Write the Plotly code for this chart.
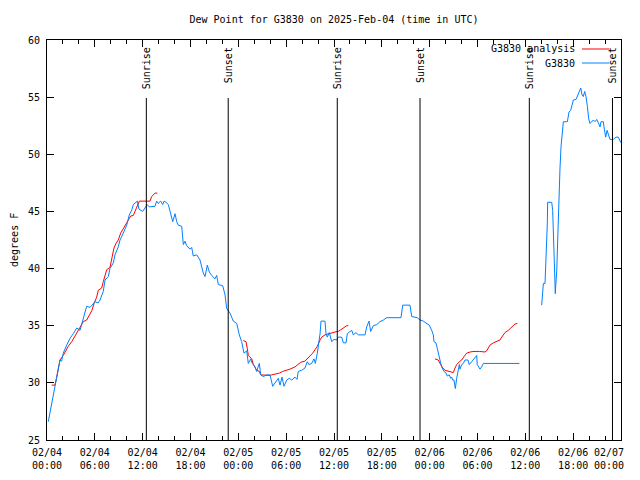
import plotly.graph_objects as go

# ---------------- data (x = hours since 2025-02-04 00:00 UTC, y = deg F) ----------------
obs_hours = [0.16, 0.5, 0.79, 1.0, 1.22, 1.42, 1.63, 1.84, 2.04, 2.47, 2.89, 3.3, 3.73, 4.14, 4.35,
             4.77, 4.98, 5.39, 5.81, 6.02, 6.44, 6.65, 7.06, 7.28, 7.69, 7.9, 8.32, 8.53, 8.94, 9.16,
             9.57, 10.0, 10.32, 10.62, 10.83, 11.25, 11.33, 11.54, 12.0, 12.29, 12.58, 12.83, 13.05,
             13.55, 13.76, 13.96, 14.26, 14.51, 14.68, 14.93, 15.22, 15.52, 15.77, 16.06, 16.27,
             16.47, 16.9, 17.1, 17.31, 17.52, 17.94, 18.15, 18.35, 18.78, 19.19, 19.61, 19.82, 20.11,
             20.36, 20.66, 21.07, 21.29, 21.49, 22.04, 22.33, 22.54, 22.96, 23.37, 23.8, 24.12,
             24.42, 24.71, 25.05, 25.25, 25.55, 25.68, 26.09, 26.3, 26.63, 26.81, 27.13, 27.56,
             27.97, 28.31, 28.6, 29.01, 29.23, 29.48, 29.73, 30.07, 30.39, 30.69, 31.11, 31.36,
             31.52, 31.95, 32.36, 32.65, 32.86, 33.2, 33.49, 33.66, 33.91, 34.03, 34.25, 34.37,
             34.87, 35.0, 35.16, 35.41, 35.71, 36.0, 36.34, 36.54, 36.97, 37.17, 37.51, 37.67,
             37.92, 38.22, 38.42, 38.76, 39.05, 39.89, 40.1, 40.39, 40.6, 40.93, 41.36, 41.77,
             42.19, 42.61, 44.4, 44.62, 45.53, 45.75, 46.45, 46.79, 47.2, 47.63, 47.95, 48.25,
             48.46, 48.54, 48.79, 48.96, 49.08, 49.21, 49.39, 49.51, 49.8, 50.05, 50.21, 50.46,
             50.64, 50.76, 50.89, 51.05, 51.22, 51.39, 51.59, 51.72, 51.8, 52.02, 52.22, 52.43,
             52.8, 52.97, 53.27, 53.69, 53.9, 53.97, 54.31, 54.52, 54.73, 59.25,
             None,
             62.05, 62.26, 62.47, 62.59, 62.76, 62.8, 63.31, 63.43, 63.51, 63.64, 63.76, 63.81,
             63.94, 64.06, 64.19, 64.35, 64.48, 64.64, 64.77, 65.27, 65.48, 65.69, 65.82, 66.02,
             66.36, 66.57, 66.77, 66.95, 67.11, 67.27, 67.45, 67.61, 67.78, 67.95, 68.11, 68.33,
             68.53, 68.74, 68.96, 69.16, 69.37, 69.49, 69.78, 69.91, 70.08, 70.25, 70.41, 70.62,
             71.03, 71.37, 71.66, 71.88, 72.0]
obs_dewpt = [26.6, 27.9, 28.9, 29.8, 30.7, 31.4, 32.0, 31.9, 32.6, 33.3, 33.9, 34.3, 34.8, 34.6, 35.1,
             36.2, 36.7, 36.6, 37.0, 37.1, 37.0, 37.25, 38.0, 39.0, 39.3, 40.0, 40.5, 41.2, 41.9, 42.5,
             43.1, 43.8, 44.7, 45.1, 45.6, 45.8, 45.9, 45.2, 45.0, 45.3, 45.6, 45.4, 45.4,
             45.45, 45.9, 45.7, 45.9, 45.6, 45.9, 45.8, 45.6, 44.8, 44.1, 44.8, 44.1,
             43.8, 43.7, 42.1, 42.4, 42.0, 41.7, 41.85, 41.1, 41.2, 40.75, 39.6, 39.3, 40.3,
             39.7, 39.4, 39.1, 39.4, 38.6, 38.5, 37.7, 36.5, 36.1, 35.4, 35.2, 34.2,
             33.6, 32.6, 32.8, 31.7, 32.1, 31.8, 31.4, 31.0, 31.7, 30.7, 30.55, 30.7,
             30.7, 29.7, 29.95, 30.4, 29.8, 30.5, 29.7, 30.25, 30.4, 30.25, 30.5, 30.3,
             31.0, 31.1, 31.3, 31.85, 31.6, 31.7, 32.1, 31.7, 32.6, 33.2, 34.3, 35.4,
             35.4, 34.3, 34.0, 34.4, 33.6, 33.8, 33.75, 34.0, 34.0, 33.5, 33.5, 34.3,
             34.45, 34.6, 34.2, 34.4, 34.2, 34.2, 34.9, 35.4, 34.5, 35.0, 35.1, 35.35,
             35.5, 35.7, 35.7, 36.8, 36.8, 35.8, 35.7, 35.5, 35.4, 35.2, 35.05, 34.6,
             34.2, 33.6, 33.5, 33.0, 32.6, 32.0, 31.7, 31.4, 31.0, 30.85, 30.6, 30.7,
             30.4, 30.5, 30.25, 30.25, 29.5, 30.4, 31.3, 31.6, 31.2, 31.6, 31.7, 32.0,
             32.0, 31.6, 31.85, 32.2, 32.4, 31.6, 31.2, 31.4, 31.7, 31.7,
             None,
             36.8, 38.7, 38.7, 40.6, 44.0, 45.8, 45.8, 45.1, 43.1, 39.6, 37.8, 38.5,
             39.8, 42.5, 46.0, 48.8, 50.7, 52.4, 52.85, 52.85, 53.7, 53.85, 54.3, 54.75,
             54.8, 55.2, 55.6, 55.8, 55.2, 55.05, 55.5, 55.05, 54.2, 53.1, 52.7, 52.85,
             53.0, 52.85, 53.05, 52.75, 52.4, 52.85, 52.85, 52.2, 51.5, 52.1, 51.7, 51.3,
             51.3, 51.5, 51.5, 51.2, 51.0]

ana_hours = [0.59, 1.0, 1.22, 1.42, 1.63, 2.04, 2.26, 2.67, 3.1, 3.42, 3.73, 4.14, 4.55, 4.98, 5.39,
             5.61, 5.93, 6.23, 6.44, 6.86, 7.06, 7.28, 7.49, 7.9, 8.11, 8.4, 8.66, 8.94, 9.24, 9.57,
             10.07, 10.5, 10.83, 11.04, 11.33, 11.58, 12.92, 13.13, 13.55, 13.84,
             None,
             24.62, 24.96, 25.13, 25.25, 25.68, 25.88, 26.3, 26.63, 26.81, 27.48, 27.89, 28.19,
             28.81, 29.14, 29.57, 30.07, 30.48, 31.11, 31.52, 31.82, 32.36, 32.65, 32.99, 33.33,
             33.62, 33.91, 34.25, 34.46, 34.87, 35.29, 35.71, 36.13, 36.54, 36.75, 37.17, 37.59, 37.8,
             None,
             48.67, 49.08, 49.3, 49.64, 49.93, 50.21, 50.46, 50.76, 50.97, 51.18, 51.39, 51.72,
             52.02, 52.31, 52.64, 53.06, 53.56, 54.23, 54.94, 55.15, 55.57, 55.98, 56.41, 56.82,
             57.04, 57.45, 57.87, 58.29, 58.7, 59.0]
ana_dewpt = [29.8, 29.8, 30.5, 31.4, 32.0, 32.4, 32.7, 33.2, 33.6, 34.0, 34.3, 34.8, 35.35, 35.5, 36.1,
             36.3, 37.0, 37.5, 38.1, 38.3, 38.85, 39.5, 39.9, 40.1, 40.75, 41.8, 42.2, 42.5, 43.1, 43.5,
             44.1, 44.6, 44.65, 45.0, 45.6, 45.9, 45.9, 46.3, 46.6, 46.6,
             None,
             33.7, 33.6, 33.0, 32.4, 32.1, 31.6, 31.1, 31.0, 30.7, 30.65, 30.65, 30.7,
             30.8, 30.85, 31.0, 31.1, 31.2, 31.4, 31.6, 31.8, 31.9, 32.1, 32.3, 32.6,
             32.9, 33.2, 33.75, 34.0, 34.2, 34.3, 34.35, 34.45, 34.5, 34.6, 34.8, 35.0, 35.0,
             None,
             32.1, 32.0, 31.7, 31.3, 31.1, 31.05, 31.0, 30.9, 30.9, 31.3, 31.6, 31.85,
             32.0, 32.3, 32.6, 32.7, 32.75, 32.75, 32.7, 32.8, 33.3, 33.5, 33.6, 33.75,
             34.0, 34.4, 34.6, 34.9, 35.15, 35.2]

sun_hours = [12.46, 22.73, 36.41, 46.79, 60.5, 70.93]
sun_labels = ["Sunrise", "Sunset", "Sunrise", "Sunset", "Sunrise", "Sunset"]

PAD = "\u00a0" * 4  # keeps the last (edge) label inside the window, as in the reference
tick_hours = [0, 6, 12, 18, 24, 30, 36, 42, 48, 54, 60, 66, 72]
tick_labels = ["02/04<br>00:00", "02/04<br>06:00", "02/04<br>12:00", "02/04<br>18:00",
               "02/05<br>00:00", "02/05<br>06:00", "02/05<br>12:00", "02/05<br>18:00",
               "02/06<br>00:00", "02/06<br>06:00", "02/06<br>12:00", "02/06<br>18:00",
               "02/07" + PAD + "<br>00:00" + PAD]

series_names = ["G3830 analysis", "G3830"]
series_colors = ["#ff0000", "#0080ff"]

# ---------------- figure ----------------
# page body has an 8px margin; the window shows the top-left 640x480 of the page
FONT = "DejaVu Sans Mono"
W, H = 632, 472
fig = go.Figure()
fig.add_trace(go.Scatter(x=ana_hours, y=ana_dewpt, mode="lines", name=series_names[0],
                         line=dict(color=series_colors[0], width=1), connectgaps=False))
fig.add_trace(go.Scatter(x=obs_hours, y=obs_dewpt, mode="lines", name=series_names[1],
                         line=dict(color=series_colors[1], width=1), connectgaps=False))

line_top = 0.855
for h, lab in zip(sun_hours, sun_labels):
    fig.add_shape(type="line", xref="x", yref="paper", x0=h, x1=h, y0=0, y1=line_top,
                  line=dict(color="black", width=1))
    fig.add_annotation(x=h, xref="x", y=1, yref="paper", text=lab, textangle=-90,
                       showarrow=False, xanchor="center", yanchor="top", yshift=-5,
                       font=dict(family=FONT, size=10, color="black"))

# manual gnuplot-style legend (text right, sample line to its right)
for i, (nm, col) in enumerate(zip(series_names, series_colors)):
    yy = 1 - (9 + 14 * i) / 400
    fig.add_annotation(x=0.924, xref="paper", y=yy, yref="paper", text=nm, showarrow=False,
                       xanchor="right", yanchor="middle",
                       font=dict(family=FONT, size=10, color="black"))
    fig.add_shape(type="line", xref="paper", yref="paper", x0=0.932, x1=0.98, y0=yy, y1=yy,
                  line=dict(color=col, width=1))

fig.add_annotation(x=-0.0575, xref="paper", y=0.5, yref="paper", text="degrees F", textangle=-90,
                   showarrow=False, xanchor="center", yanchor="middle",
                   font=dict(family=FONT, size=10, color="black"))

fig.update_layout(
    width=W, height=H,
    margin=dict(l=39, r=19, t=32, b=40, autoexpand=False),
    paper_bgcolor="white", plot_bgcolor="white",
    showlegend=False,
    title=dict(text="Dew Point for G3830 on 2025-Feb-04 (time in UTC)", x=0.5, xref="paper",
               xanchor="center", y=1 - 11 / H, yanchor="middle",
               font=dict(family=FONT, size=10, color="black")),
    font=dict(family=FONT, size=10, color="black"),
)
fig.update_xaxes(range=[0, 72], tickvals=tick_hours, ticktext=tick_labels, automargin=False,
                 ticklabeloverflow="allow", ticklabelstandoff=3,
                 ticks="inside", ticklen=7, tickcolor="black", mirror="allticks",
                 showline=True, linecolor="black", linewidth=1, showgrid=False, zeroline=False,
                 minor=dict(dtick=2, ticks="inside", ticklen=4, tickcolor="black", showgrid=False),
                 tickfont=dict(family=FONT, size=10, color="black"))
fig.update_yaxes(range=[25, 60], dtick=5, tick0=25, automargin=False, ticklabelstandoff=4,
                 ticks="inside", ticklen=7, tickcolor="black",
                 mirror="allticks", showline=True, linecolor="black", linewidth=1,
                 showgrid=False, zeroline=False,
                 tickfont=dict(family=FONT, size=10, color="black"))

fig.write_html("out.html")
